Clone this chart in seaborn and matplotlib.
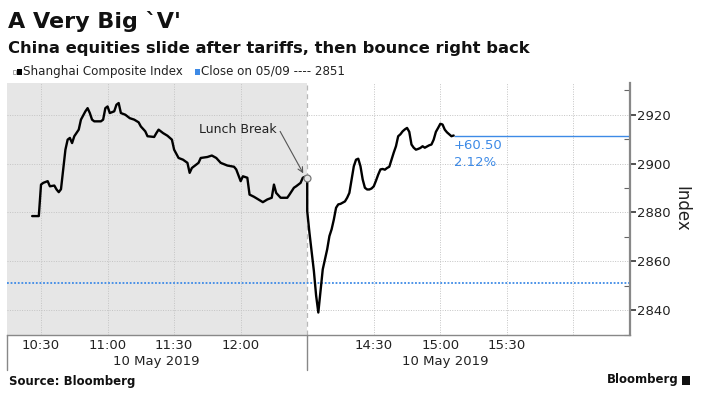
import pandas as pd
import seaborn as sns
import matplotlib.pyplot as plt
from matplotlib.patches import Rectangle
from matplotlib.transforms import blended_transform_factory

# morning session (clock as shown on chart)
am_times = [
    "10:26", "10:29", "10:30", "10:31", "10:33", "10:34", "10:36", "10:37", "10:38", "10:39",
    "10:40", "10:41", "10:42", "10:43", "10:44", "10:45", "10:47", "10:48", "10:50", "10:51",
    "10:52", "10:53", "10:54", "10:57", "10:58", "10:59", "11:00", "11:01", "11:03", "11:04",
    "11:05", "11:06", "11:08", "11:10", "11:12", "11:14", "11:15", "11:17", "11:18", "11:21",
    "11:22", "11:23", "11:25", "11:27", "11:29", "11:30", "11:32", "11:34", "11:36", "11:37",
    "11:38", "11:39", "11:41", "11:42", "11:45", "11:47", "11:49", "11:51", "11:54", "11:57",
    "11:58", "12:00", "12:01", "12:03", "12:04", "12:06", "12:08", "12:10", "12:12", "12:14",
    "12:15", "12:16", "12:18", "12:21", "12:22", "12:24", "12:25", "12:27", "12:28", "12:29",
    "12:30",
]
am_values = [
    2878.5, 2878.5, 2891.4, 2892.1, 2892.8, 2890.7, 2891.0, 2889.4, 2888.3, 2889.5,
    2897.6, 2905.7, 2909.8, 2910.5, 2908.4, 2911.2, 2913.9, 2918.0, 2921.4, 2922.7,
    2920.7, 2918.0, 2917.3, 2917.3, 2918.0, 2922.7, 2923.4, 2920.7, 2921.4, 2924.1,
    2924.8, 2920.7, 2920.0, 2918.6, 2918.0, 2916.9, 2915.2, 2913.2, 2911.2, 2910.9,
    2912.5, 2913.9, 2912.5, 2911.4, 2909.8, 2905.7, 2902.3, 2901.6, 2900.3, 2896.2,
    2898.2, 2898.9, 2900.3, 2902.3, 2902.7, 2903.3, 2902.3, 2900.3, 2899.2, 2898.7,
    2897.6, 2892.8, 2894.8, 2894.2, 2887.3, 2886.4, 2885.3, 2884.2, 2885.3, 2886.0,
    2891.4, 2888.0, 2886.0, 2886.0, 2887.3, 2890.1, 2890.7, 2892.1, 2894.2, 2894.6,
    2894.0,
]
# afternoon session
pm_times = [
    "14:00", "14:01", "14:02", "14:03", "14:04", "14:05", "14:06", "14:07", "14:08", "14:09",
    "14:10", "14:11", "14:12", "14:13", "14:14", "14:15", "14:16", "14:17", "14:18", "14:19",
    "14:20", "14:21", "14:22", "14:23", "14:24", "14:25", "14:26", "14:27", "14:28", "14:29",
    "14:30", "14:31", "14:32", "14:33", "14:34", "14:35", "14:36", "14:37", "14:38", "14:39",
    "14:40", "14:41", "14:42", "14:43", "14:44", "14:45", "14:46", "14:47", "14:48", "14:49",
    "14:50", "14:51", "14:52", "14:53", "14:54", "14:55", "14:56", "14:57", "14:58", "14:59",
    "15:00", "15:01", "15:02", "15:03", "15:04", "15:05", "15:06",
]
pm_values = [
    2880.5, 2871.7, 2864.0, 2856.0, 2846.0, 2839.0, 2848.0, 2856.7, 2860.8, 2864.9,
    2870.3, 2873.1, 2877.1, 2881.9, 2883.3, 2883.5, 2884.0, 2884.5, 2886.0, 2888.0,
    2893.5, 2898.9, 2901.6, 2902.0, 2898.9, 2893.5, 2890.1, 2889.4, 2889.4, 2889.8,
    2890.7, 2893.0, 2895.5, 2897.6, 2897.8, 2897.5, 2898.2, 2898.7, 2901.6, 2904.5,
    2907.1, 2911.2, 2912.0, 2913.2, 2914.0, 2914.6, 2913.0, 2907.8, 2906.5, 2905.7,
    2906.0, 2906.4, 2907.1, 2906.5, 2907.0, 2907.5, 2907.8, 2909.8, 2913.0, 2914.6,
    2916.3, 2916.0, 2913.9, 2912.8, 2912.0, 2911.2, 2911.5,
]
prev_close = 2851.0
y_ticks = [2840, 2860, 2880, 2900, 2920]
x_tick_labels = ["10:30", "11:00", "11:30", "12:00", "14:30", "15:00", "15:30"]
x_grid_times = ["10:30", "11:00", "11:30", "12:00", "14:30", "15:00", "15:30", "16:00"]
x_minor_times = ["10:45", "11:15", "11:45", "12:15", "14:15", "14:45", "15:15", "15:45", "16:15"]


def to_pos(t):
    # compress the lunch break: 12:30 and 14:00 sit on the same spot
    h, m = map(int, t.split(":"))
    mins = h * 60 + m
    if mins <= 12 * 60 + 30:
        return mins - (10 * 60 + 15)
    return 135 + mins - 14 * 60


df = pd.DataFrame({
    "time": am_times + pm_times,
    "value": am_values + pm_values,
})
df["pos"] = df["time"].apply(to_pos)

W, H = 703, 394
sns.set_style("white")
plt.rcParams["font.family"] = ["DejaVu Sans"]

fig = plt.figure(figsize=(W / 100, H / 100), dpi=100)
ax = fig.add_axes([7.3 / W, (H - 335) / H, (630 - 7.3) / W, (335 - 83) / H])

grey_txt = "#222222"
blue = "#3d8ae6"
break_pos = 135
xmax = 280.5

ax.axvspan(-0.2, break_pos, color="#e6e6e6", lw=0, zorder=0)
for t in x_grid_times:
    ax.axvline(to_pos(t), color="#c4c4c4", ls=(0, (1, 1.5)), lw=0.7, zorder=1)
for v in y_ticks:
    ax.axhline(v, color="#c4c4c4", ls=(0, (1, 1.5)), lw=0.7, zorder=1)
ax.axvline(break_pos, color="#b8b8b8", ls=(0, (4, 3)), lw=0.9, zorder=1)

ax.axhline(prev_close, color=blue, ls=(0, (1, 1)), lw=1.3, zorder=2)

sns.lineplot(data=df, x="pos", y="value", sort=False, estimator=None,
             color="black", lw=1.7, ax=ax, zorder=3)

last_pos = df["pos"].iloc[-1]
last_val = df["value"].iloc[-1]
ax.hlines(last_val, last_pos, xmax, color=blue, lw=1.0, zorder=2)

ax.plot(break_pos, am_values[-1], marker="o", ms=5, mfc="#e6e6e6", mec="#777777",
        mew=0.9, zorder=4)

ax.annotate("Lunch Break", xy=(break_pos - 1.5, am_values[-1] + 1.5),
            xytext=(121, 2914), ha="right", va="center", fontsize=9, color=grey_txt,
            arrowprops=dict(arrowstyle="->", color="#555555", lw=0.8,
                            relpos=(1.0, 0.9), shrinkA=1, shrinkB=1))

change = last_val - prev_close
ax.text(last_pos, 2907.3, f"+{change:.2f}", color=blue, fontsize=9.5, va="center", ha="left")
ax.text(last_pos, 2900.6, f"{change / prev_close * 100:.2f}%", color=blue, fontsize=9.5,
        va="center", ha="left")

ax.set_xlim(-0.2, xmax)
ax.set_ylim(2829.8, 2933)

ax.set_xticks([to_pos(t) for t in x_tick_labels])
ax.set_xticklabels(x_tick_labels, fontsize=9.5, color=grey_txt)
ax.set_xticks([to_pos(t) for t in x_minor_times], minor=True)
ax.tick_params(axis="x", which="major", length=0, pad=3)
ax.tick_params(axis="x", which="minor", length=4, direction="out", color="#666666", width=0.8)

ax.yaxis.tick_right()
ax.yaxis.set_label_position("right")
ax.set_yticks(y_ticks)
ax.set_yticklabels([str(v) for v in y_ticks], fontsize=9.5, color=grey_txt)
ax.set_yticks([v + 10 for v in [2820] + y_ticks], minor=True)
ax.tick_params(axis="y", which="major", length=4, direction="out", color="#333333",
               width=1.2, pad=1)
ax.tick_params(axis="y", which="minor", length=4, direction="in", color="#666666", width=0.8)
ax.set_ylabel("Index", rotation=270, fontsize=12, labelpad=14, color=grey_txt)
ax.set_xlabel("")

for s in ["left", "top"]:
    ax.spines[s].set_visible(False)
ax.spines["right"].set_color("#888888")
ax.spines["right"].set_linewidth(1.6)
ax.spines["bottom"].set_color("#888888")
ax.spines["bottom"].set_linewidth(1.0)

# separators and date row under the time axis
trans = blended_transform_factory(ax.transData, ax.transAxes)
for xp in [-0.2, break_pos]:
    ax.plot([xp, xp], [0, -0.14], transform=trans, color="#888888", lw=1.0, clip_on=False)
ax.text(to_pos("11:22"), -0.105, "10 May 2019", transform=trans, ha="center", va="center",
        fontsize=9.5, color=grey_txt)
ax.text(to_pos("15:02"), -0.105, "10 May 2019", transform=trans, ha="center", va="center",
        fontsize=9.5, color=grey_txt)


def fx(x):
    return x / W


def fy(y):
    return 1 - y / H


fig.text(fx(8), fy(28), "A Very Big `V'", fontsize=16, fontweight="bold", va="baseline",
         color="#111111")
fig.text(fx(8), fy(53), "China equities slide after tariffs, then bounce right back",
         fontsize=11.8, fontweight="bold", va="baseline", color="#111111")

# legend row
fig.add_artist(Rectangle((fx(13), fy(74)), 3 / W, 4 / H, transform=fig.transFigure,
                         fc="white", ec="#999999", lw=0.6))
fig.add_artist(Rectangle((fx(17), fy(75)), 5 / W, 6 / H, transform=fig.transFigure,
                         fc="black", ec="none"))
fig.text(fx(23), fy(71), "Shanghai Composite Index", fontsize=8.6, va="center",
         color=grey_txt)
fig.add_artist(Rectangle((fx(195), fy(75)), 5 / W, 6 / H, transform=fig.transFigure,
                         fc=blue, ec="none"))
fig.text(fx(201), fy(71), "Close on 05/09 ---- 2851", fontsize=8.6, va="center",
         color=grey_txt)

fig.text(fx(9), fy(381), "Source: Bloomberg", fontsize=8.5, fontweight="bold",
         va="center", color="#111111")
fig.text(fx(679), fy(380), "Bloomberg", fontsize=8.5, fontweight="bold", va="center",
         ha="right", color="#111111")
fig.add_artist(Rectangle((fx(682), fy(385)), 8 / W, 9 / H, transform=fig.transFigure,
                         fc="#111111", ec="none"))

fig.savefig("out.png", dpi=100)
